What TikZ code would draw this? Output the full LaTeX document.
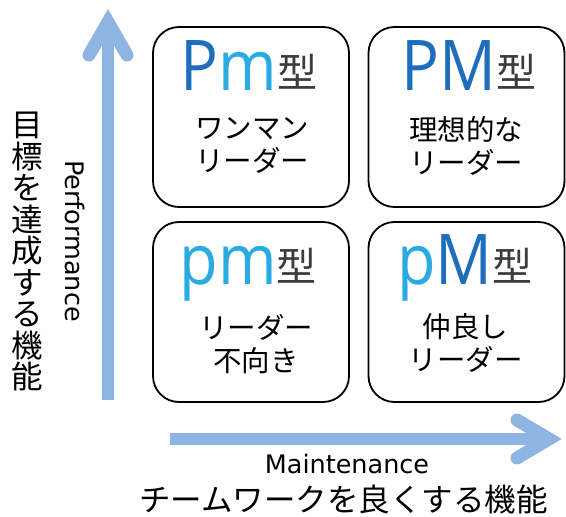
\documentclass[tikz,border=0pt]{standalone}
\usepackage{fontspec}
\setmainfont{DejaVu Sans}
\newfontfamily\jp{Noto Sans CJK JP}
\newfontfamily\pmfont[FakeStretch=0.9]{Open Sans}
\definecolor{arrowblue}{HTML}{8DB4E2}
\definecolor{pdark}{HTML}{1F6EBD}
\definecolor{plight}{HTML}{2AAAE2}
\definecolor{kgray}{HTML}{3C3C3C}
\newcommand\katachi{\raisebox{3pt}{\jp\fontsize{40}{40}\selectfont\color{kgray}型}}
\begin{document}
\begin{tikzpicture}[x=1pt,y=-1pt,
  box/.style={draw=black, line width=1.8pt, rounded corners=26pt, minimum width=196pt, minimum height=180pt, inner sep=0pt},
  head/.style={anchor=base, inner sep=0pt, font=\pmfont\fontsize{70}{70}\selectfont},
  body/.style={font=\jp\fontsize{28.5}{33}\selectfont, align=center, inner sep=0pt},
  shaft/.style={draw=arrowblue, line width=12pt},
  barb/.style={draw=arrowblue, line width=13pt, line cap=round, line join=miter, miter limit=10},
  lat/.style={font=\fontsize{25.5}{25.5}\selectfont, inner sep=0pt},
  jlab/.style={font=\jp\fontsize{31.5}{31.5}\selectfont, inner sep=0pt}]
\useasboundingbox (0,0) rectangle (566,517);
% axes
\coordinate (yb) at (108,400);
\coordinate (yt) at (108,30);
\coordinate (yv) at (108,22);
\coordinate (yl) at (89,55);
\coordinate (yr) at (127,55);
\draw[shaft] (yb) -- (yt);
\draw[barb] (yl) -- (yv) -- (yr);
\coordinate (xb) at (170,439);
\coordinate (xt) at (542,439);
\coordinate (xv) at (549,439);
\coordinate (xu) at (517,420);
\coordinate (xd) at (517,458);
\draw[shaft] (xb) -- (xt);
\draw[barb] (xu) -- (xv) -- (xd);
% boxes
\node[box] (bPm) at (251,117) {};
\node[box] (bPM) at (466.5,117) {};
\node[box] (bpm) at (251,312) {};
\node[box] (bpM) at (466.5,312) {};
% headers
\node[head] (hPm) at (249,90) {\color{pdark}P\color{plight}m\katachi};
\node[head] (hPM) at (469,90) {\color{pdark}PM\katachi};
\node[head] (hpm) at (248,284) {\color{plight}pm\katachi};
\node[head] (hpM) at (465,284) {\color{plight}p\color{pdark}M\katachi};
% body texts
\node[body] (tPm) at (252,146) {ワンマン\\リーダー};
\node[body] (tPM) at (466,145.5) {理想的な\\リーダー};
\node[body] (tpm) at (256,344) {リーダー\\不向き};
\node[body] (tpM) at (465.5,342.5) {仲良し\\リーダー};
% axis labels
\node[lat, rotate=-90] (perf) at (75,241) {Performance};
\node[lat, anchor=base] (maint) at (347,473) {Maintenance};
\node[jlab, align=center] (ylab) at (27,251.5) {目\\標\\を\\達\\成\\す\\る\\機\\能};
\node[jlab] (xlab) at (343.5,500) {チームワークを良くする機能};
\end{tikzpicture}
\end{document}
